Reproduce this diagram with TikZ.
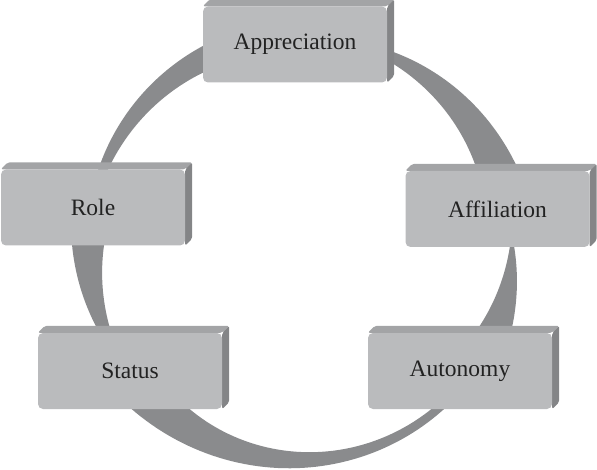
\documentclass[tikz,border=0pt]{standalone}
\usepackage{fontspec}
\setmainfont{Liberation Serif}
\usetikzlibrary{calc,backgrounds}
\definecolor{ringgray}{RGB}{138,139,141}
\definecolor{frontgray}{RGB}{186,187,189}
\definecolor{topgray}{RGB}{163,164,166}
\definecolor{sidegray}{RGB}{132,133,135}
\definecolor{textgray}{RGB}{34,34,34}
\tikzset{
  facebox/.style={rectangle, rounded corners=5pt, fill=frontgray, minimum width=184pt,
    minimum height=76pt, inner sep=0pt, text=textgray, font=\fontsize{23.5}{28}\selectfont},
  topface/.style={fill=topgray, rounded corners=2pt},
  sideface/.style={fill=sidegray, rounded corners=2pt},
  ringband/.style={fill=ringgray},
}
\begin{document}
\begin{tikzpicture}[x=1pt, y=1pt]
\useasboundingbox (0,0) rectangle (597,469);
\coordinate (ringc) at (300,221);
% the five boxes
\node[facebox] (appreciation) at (295,424.5) {Appreciation};
\node[facebox] (affiliation) at (497.5,260) {Affiliation};
\node[facebox] (autonomy) at (460,98) {Autonomy};
\node[facebox] (status) at (130,98) {Status};
\node[facebox] (role) at (93,261.5) {Role};
\begin{scope}[on background layer]
% tapering pieces of the ring: start angle/end angle/start width/end width/power
\foreach \ta/\tb/\wa/\wb/\p in {80/15/0/43/1, 4/-30/0/40/1, -40/-140/8/45/2.2, 216/170/0/40/1, 175/100/3/30/1}
  \fill[ringband]
    plot[variable=\s, domain=0:1, samples=60]
      ({300+(212+0.5*(\wa+(\wb-\wa)*(\s+0.0001)^\p))*cos(\ta+(\tb-\ta)*\s)},
       {221+(212+0.5*(\wa+(\wb-\wa)*(\s+0.0001)^\p))*sin(\ta+(\tb-\ta)*\s)})
    -- plot[variable=\s, domain=0:1, samples=60]
      ({300+(212-0.5*(\wa+(\wb-\wa)*(1.0001-\s)^\p))*cos(\tb+(\ta-\tb)*\s)},
       {221+(212-0.5*(\wa+(\wb-\wa)*(1.0001-\s)^\p))*sin(\tb+(\ta-\tb)*\s)})
    -- cycle;
% depth of the boxes
\foreach \n in {appreciation, affiliation, autonomy, status, role} {
  \fill[topface] (\n.north west) -- ++(7,7) -- ($(\n.north east)+(7,7)$) -- (\n.north east) -- cycle;
  \fill[sideface] (\n.north east) -- ++(7,7) -- ($(\n.south east)+(7,7)$) -- (\n.south east) -- cycle;
}
\end{scope}
\end{tikzpicture}
\end{document}
